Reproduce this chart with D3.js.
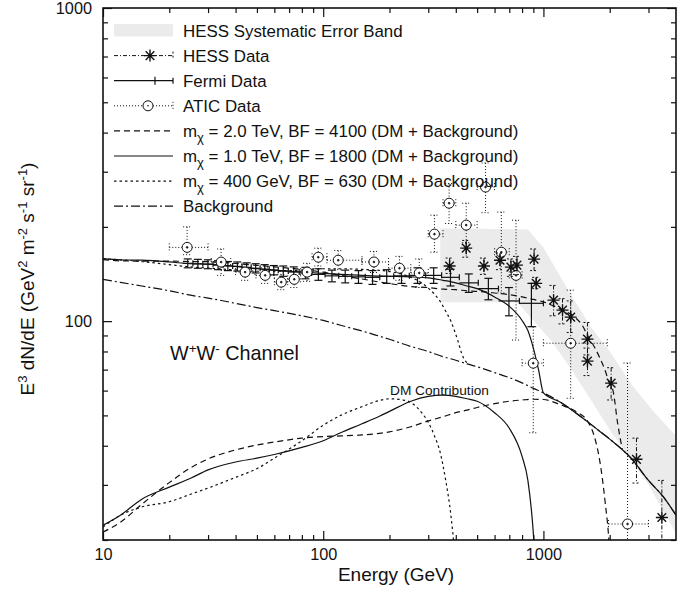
<!DOCTYPE html>
<html>
<head>
<meta charset="utf-8">
<script src="https://cdn.jsdelivr.net/npm/d3@7"></script>
<style>
body { margin: 0; background: #fff; }
text { font-family: "Liberation Sans", Arial, Helvetica, sans-serif; fill: #111; }
</style>
</head>
<body>
<div id="chart"></div>
<script>
// background (dash-dot)
var bgE = [10,12,15,20,25,30,40,50,60,80,100,120,150,180,200,250,300,350,400,450,500,600,700,800,900,1000,1200,1400,1600,1800,2000,2500,3000,3500,4000];
var bgV = [136,133,129.5,125,121,118.5,114,110.5,108,104,100.5,97,93,89.5,87.5,83,80,77,75,73,71.5,68.5,66,63.5,61,59,55,51,47.5,44.5,42,36.5,31,27.5,24];

// DM contributions
var dm1E = [10,12,15,20,25,30,40,50,60,80,100,120,150,180,200,250,300,350,400,450,500,600,700,800,850,900,930];
var dm1V = [22.3,24,27,29.5,31.5,33.5,35.5,36.5,37.5,39.5,41.5,44,47,49.7,51.5,55.5,57.5,58,57.5,56.5,55.5,51,45.5,37,31,21,14];
var dm2E = [10,12,15,20,25,30,40,50,60,80,100,120,150,180,200,250,300,350,400,450,500,600,700,800,900,1000,1200,1400,1600,1700,1800,1900,2000,2050];
var dm2V = [21.2,22.8,26,30.5,34,36.3,38.8,40.2,41.1,42.3,42.8,43,43.3,43.8,44.3,46,48,49.5,51,52,53,54.5,55.5,56,56.3,56.2,54,51.5,47.5,43,36,27,18,12];
var dm4E = [10,12,15,20,25,30,40,50,60,80,100,120,150,180,200,230,250,280,300,320,340,360,380,395,410];
var dm4V = [22,24,25.5,26.5,28,29.3,31.7,33.8,36.5,41.5,46.5,50,53.3,55.8,56.5,56,55,51,47.5,43,38,31,24,18,11];

// DM + background
var tot1E = [10,12,15,20,25,30,40,50,60,80,100,120,150,180,200,250,300,350,400,450,500,600,700,800,850,900,950,1000,1200,1400,1600,1800,2000,2500,3000,3500,4000];
var tot1V = [158.3,157,156.5,154.5,152.5,152,149.5,147,145.5,143.5,142,141,140,139.2,139,138.5,137.5,135,132.5,129.5,127,119.5,111.5,100.5,93.3,82,70,59,55,51,47.5,44.5,42,36.5,31,27.5,24];
var tot2E = [10,12,15,20,25,30,40,50,60,80,100,120,150,180,200,250,300,350,400,450,500,600,700,800,900,1000,1200,1400,1500,1600,1700,1800,1900,2000,2070,2175,2280];
var tot2V = [157.2,155.8,155.5,155.5,155,154.8,152.8,150.7,149.1,146.3,143.3,140,136.3,133.3,131.8,129,128,126.5,126,125,124.5,123,121.5,119.5,117.3,115.2,109,102.5,97,89,83,76.5,70,63,60,47,39];
var tot4E = [10,12,15,20,25,30,40,50,60,80,100,120,150,180,200,230,250,280,300,320,340,360,380,395,410,425,440,450];
var tot4V = [158,157,155,151.5,149,147.8,145.7,144.3,144.5,145.5,147,147,146.3,145.3,144,141,138,132.5,127.5,122,115.5,107.5,100,93,86,79,75,73.5];

// HESS systematic band
var bandUpE = [340,850,1000,1300,1640,2000,2570,3200,4000];
var bandUpV = [198,196,172,125,96,80,61.5,51,43];
var bandLoE = [340,760,1078,1343,2000,3000,4000];
var bandLoV = [115,115,87,70,45,30,21];

// HESS data
var hessE  = [375,446,537,635,712,758,907,927,1112,1221,1330,1585,1585,2030,2646,3450];
var hessV  = [150,171,150,156.5,148.8,151,157.8,132,116.7,108.4,103,87.6,74.5,63.4,36.2,23.6];
var hessLo = [142,160,141,146,139,141,145,127,104,98,92,78,67,56,30.4,19];
var hessHi = [159,181,159,165,158,161,170,138,130,118,116,99,82,71,42.3,31];

// Fermi data
var fermiEdges = [23,25.6,28.4,31.6,35.1,38.8,42.8,47.1,51.7,56.9,62.5,69.4,77.8,88.6,102,117.6,134.7,155.2,180.6,209,246,292,345,415,506,625,778,1000];
var fermiV   = [153,152.5,152,151,150,149.5,148.5,147.5,146.5,145.5,144.5,143.5,142.5,141,139.5,139,138.5,138,139,139.5,140,140,138,132.5,127,116,114];
var fermiErr = [5,5,5,5,5,5,5,5,5,5,5.5,5.5,6,6,6,6.5,6.5,7,7,7.5,8,8,8.5,9,10,12,18];

// ATIC data
var aticE   = [24.1,34.4,44.2,54.5,64.5,73.9,84.5,95,117,170,222,273,320,373,446,546,644,751,899,1330,2410];
var aticELo = [20,31,40,49.5,60,69,79,89,104,150,198,250,300,350,400,500,600,700,800,1000,1975];
var aticEHi = [30,38,49,60,69,79,90,104,150,198,250,300,350,400,500,600,700,800,1000,1950,3000];
var aticV   = [172,154.4,143.4,140,133.2,136,143.4,160,156.5,154.5,147.6,142.5,189.6,238,202.6,268,166,140,73.4,85,22.5];
var aticLo  = [163,140,135,132,126,128,134,150,146,143,135,128,166,205,178,222,123,87,44,56.7,10];
var aticHi  = [200,170,152,148,141,144,153,171,168,167,161,158,218,275,238,320,223,210,96,125.6,73.5];

var xMajor = [10, 100, 1000];
var xMinor = [20,30,40,50,60,70,80,90,200,300,400,500,600,700,800,900,2000,3000];
var yMajor = [100, 1000];
var yMinor = [20,30,40,50,60,70,80,90,200,300,400,500,600,700,800,900];

var legendLabels = ["HESS Systematic Error Band", "HESS Data", "Fermi Data", "ATIC Data"];
var modelLabels = [" = 2.0 TeV, BF = 4100 (DM + Background)",
                   " = 1.0 TeV, BF = 1800 (DM + Background)",
                   " = 400 GeV, BF = 630 (DM + Background)"];

var W = 694, H = 597;
var L = 103, R = 676, T = 8, B = 540;

var x = d3.scaleLog().domain([10, 4000]).range([L, R]);
var y = d3.scaleLog().domain([20, 1000]).range([B, T]);

var svg = d3.select("#chart").append("svg")
    .attr("width", W)
    .attr("height", H);

svg.append("clipPath").attr("id", "clip")
  .append("rect")
    .attr("x", L).attr("y", T)
    .attr("width", R - L).attr("height", B - T);

var plot = svg.append("g").attr("clip-path", "url(#clip)");

function pairs(es, vs) { return es.map(function(e, i) { return [e, vs[i]]; }); }

var line = d3.line()
    .x(function(d) { return x(d[0]); })
    .y(function(d) { return y(d[1]); })
    .curve(d3.curveMonotoneX);

// band
var bandPts = pairs(bandUpE, bandUpV).concat(pairs(bandLoE, bandLoV).reverse());
plot.append("path")
    .attr("d", d3.line().x(function(d) { return x(d[0]); }).y(function(d) { return y(d[1]); })(bandPts) + "Z")
    .attr("fill", "#ebebeb");

// curves
var curves = [
  {e: bgE,  v: bgV,  dash: "9,3,2,3"},
  {e: dm1E, v: dm1V, dash: null},
  {e: dm2E, v: dm2V, dash: "6,4"},
  {e: dm4E, v: dm4V, dash: "2.5,3"},
  {e: tot1E, v: tot1V, dash: null},
  {e: tot2E, v: tot2V, dash: "6,4"},
  {e: tot4E, v: tot4V, dash: "2.5,3"}
];
curves.forEach(function(c) {
  plot.append("path")
      .attr("d", line(pairs(c.e, c.v)))
      .attr("fill", "none")
      .attr("stroke", "#111")
      .attr("stroke-width", 1.2)
      .attr("stroke-dasharray", c.dash);
});

// Fermi error crosses
var fg = plot.append("g").attr("stroke", "#111").attr("stroke-width", 1.2);
fermiV.forEach(function(v, i) {
  var lo = fermiEdges[i], hi = fermiEdges[i + 1];
  var e = Math.sqrt(lo * hi);
  var cx = x(e), cy = y(v);
  var y1 = y(v + fermiErr[i]), y2 = y(v - fermiErr[i]);
  fg.append("line").attr("x1", x(lo)).attr("x2", x(hi)).attr("y1", cy).attr("y2", cy);
  fg.append("line").attr("x1", x(hi)).attr("x2", x(hi)).attr("y1", cy - 3).attr("y2", cy + 3);
  fg.append("line").attr("x1", cx).attr("x2", cx).attr("y1", y1).attr("y2", y2);
  fg.append("line").attr("x1", cx - 4).attr("x2", cx + 4).attr("y1", y1).attr("y2", y1);
  fg.append("line").attr("x1", cx - 4).attr("x2", cx + 4).attr("y1", y2).attr("y2", y2);
});

// ATIC
var ag = plot.append("g").attr("stroke", "#111").attr("stroke-width", 1).attr("fill", "none");
aticV.forEach(function(v, i) {
  var cx = x(aticE[i]), cy = y(v);
  var xl = x(aticELo[i]), xh = x(aticEHi[i]);
  var yl = y(aticLo[i]), yh = y(aticHi[i]);
  var dots = ag.append("g").attr("stroke-dasharray", "1,2");
  dots.append("line").attr("x1", xl).attr("x2", cx - 5).attr("y1", cy).attr("y2", cy);
  dots.append("line").attr("x1", cx + 5).attr("x2", xh).attr("y1", cy).attr("y2", cy);
  dots.append("line").attr("x1", cx).attr("x2", cx).attr("y1", yh).attr("y2", cy - 5);
  dots.append("line").attr("x1", cx).attr("x2", cx).attr("y1", cy + 5).attr("y2", yl);
  dots.append("line").attr("x1", xl).attr("x2", xl).attr("y1", cy - 4).attr("y2", cy + 4);
  dots.append("line").attr("x1", xh).attr("x2", xh).attr("y1", cy - 4).attr("y2", cy + 4);
  dots.append("line").attr("x1", cx - 4).attr("x2", cx + 4).attr("y1", yh).attr("y2", yh);
  dots.append("line").attr("x1", cx - 4).attr("x2", cx + 4).attr("y1", yl).attr("y2", yl);
  ag.append("circle").attr("cx", cx).attr("cy", cy).attr("r", 5).attr("fill", "#fff");
  ag.append("circle").attr("cx", cx).attr("cy", cy).attr("r", 0.8).attr("fill", "#111");
});

// HESS
function starPath(r) {
  var k = r * 0.72;
  return "M" + (-r) + ",0H" + r + "M0," + (-r) + "V" + r +
         "M" + (-k) + "," + (-k) + "L" + k + "," + k +
         "M" + (-k) + "," + k + "L" + k + "," + (-k);
}
var hg = plot.append("g").attr("stroke", "#111").attr("fill", "none");
hessV.forEach(function(v, i) {
  var cx = x(hessE[i]), cy = y(v);
  var yl = y(hessLo[i]), yh = y(hessHi[i]);
  var eb = hg.append("g").attr("stroke-width", 1).attr("stroke-dasharray", "4,2,1,2");
  eb.append("line").attr("x1", cx).attr("x2", cx).attr("y1", yh).attr("y2", yl);
  eb.append("line").attr("x1", cx - 4).attr("x2", cx + 4).attr("y1", yh).attr("y2", yh).attr("stroke-dasharray", "2,2");
  eb.append("line").attr("x1", cx - 4).attr("x2", cx + 4).attr("y1", yl).attr("y2", yl).attr("stroke-dasharray", "2,2");
  hg.append("path").attr("d", starPath(6)).attr("transform", "translate(" + cx + "," + cy + ")").attr("stroke-width", 1.4);
});

// axes
function axisStyle(g) {
  g.select(".domain").remove();
  g.selectAll("line").attr("stroke", "#111").attr("stroke-width", 1.2);
  g.selectAll("text").style("font-size", "16.3px").attr("fill", "#111");
}
var fmt = d3.format("d");
svg.append("g").attr("transform", "translate(0," + B + ")")
    .call(d3.axisBottom(x).tickValues(xMajor).tickSize(-9).tickPadding(8).tickFormat(fmt)).call(axisStyle);
svg.append("g").attr("transform", "translate(0," + B + ")")
    .call(d3.axisBottom(x).tickValues(xMinor).tickSize(-5).tickFormat("")).call(axisStyle);
svg.append("g").attr("transform", "translate(0," + T + ")")
    .call(d3.axisTop(x).tickValues(xMajor).tickSize(-9).tickFormat("")).call(axisStyle);
svg.append("g").attr("transform", "translate(0," + T + ")")
    .call(d3.axisTop(x).tickValues(xMinor).tickSize(-5).tickFormat("")).call(axisStyle);
svg.append("g").attr("transform", "translate(" + L + ",0)")
    .call(d3.axisLeft(y).tickValues(yMajor).tickSize(-9).tickPadding(11).tickFormat(fmt)).call(axisStyle);
svg.append("g").attr("transform", "translate(" + L + ",0)")
    .call(d3.axisLeft(y).tickValues(yMinor).tickSize(-5).tickFormat("")).call(axisStyle);
svg.append("g").attr("transform", "translate(" + R + ",0)")
    .call(d3.axisRight(y).tickValues(yMajor).tickSize(-9).tickFormat("")).call(axisStyle);
svg.append("g").attr("transform", "translate(" + R + ",0)")
    .call(d3.axisRight(y).tickValues(yMinor).tickSize(-5).tickFormat("")).call(axisStyle);

svg.append("rect")
    .attr("x", L).attr("y", T)
    .attr("width", R - L).attr("height", B - T)
    .attr("fill", "none")
    .attr("stroke", "#111")
    .attr("stroke-width", 1.6);

// axis titles
svg.append("text")
    .attr("x", 396).attr("y", 581)
    .attr("text-anchor", "middle")
    .style("font-size", "19px")
    .text("Energy (GeV)");

var yt = svg.append("text")
    .attr("transform", "translate(34,279) rotate(-90)")
    .attr("text-anchor", "middle")
    .style("font-size", "19px");
yt.append("tspan").text("E");
yt.append("tspan").attr("baseline-shift", "super").style("font-size", "13px").text("3");
yt.append("tspan").text(" dN/dE (GeV");
yt.append("tspan").attr("baseline-shift", "super").style("font-size", "13px").text("2");
yt.append("tspan").text(" m");
yt.append("tspan").attr("baseline-shift", "super").style("font-size", "13px").text("-2");
yt.append("tspan").text(" s");
yt.append("tspan").attr("baseline-shift", "super").style("font-size", "13px").text("-1");
yt.append("tspan").text(" sr");
yt.append("tspan").attr("baseline-shift", "super").style("font-size", "13px").text("-1");
yt.append("tspan").text(")");

// annotations
var ch = svg.append("text").attr("x", 170).attr("y", 360).style("font-size", "19.8px");
ch.append("tspan").text("W");
ch.append("tspan").attr("baseline-shift", "super").style("font-size", "13.5px").text("+");
ch.append("tspan").text("W");
ch.append("tspan").attr("baseline-shift", "super").style("font-size", "13.5px").text("-");
ch.append("tspan").text(" Channel");

svg.append("text").attr("x", 390).attr("y", 395).style("font-size", "13.7px").text("DM Contribution");

// legend
var lx0 = 114, lx1 = 173, tx = 183;
function rowBase(i) { return 36.5 + 25.1 * i; }
var lg = svg.append("g");

lg.append("rect").attr("x", lx0).attr("y", rowBase(0) - 12.5).attr("width", lx1 - lx0).attr("height", 12.5).attr("fill", "#ebebeb");

var r1 = rowBase(1) - 6;
lg.append("line").attr("x1", lx0).attr("x2", lx1).attr("y1", r1).attr("y2", r1)
  .attr("stroke", "#111").attr("stroke-dasharray", "4,2,1,2");
lg.append("line").attr("x1", lx1).attr("x2", lx1).attr("y1", r1 - 4).attr("y2", r1 + 4)
  .attr("stroke", "#111").attr("stroke-dasharray", "2,2");
lg.append("path").attr("d", starPath(6)).attr("transform", "translate(150," + r1 + ")")
  .attr("stroke", "#111").attr("stroke-width", 1.4);

var r2 = rowBase(2) - 6;
lg.append("line").attr("x1", lx0).attr("x2", lx1).attr("y1", r2).attr("y2", r2).attr("stroke", "#111").attr("stroke-width", 1.2);
lg.append("line").attr("x1", lx1).attr("x2", lx1).attr("y1", r2 - 3).attr("y2", r2 + 3).attr("stroke", "#111").attr("stroke-width", 1.2);
lg.append("line").attr("x1", 155).attr("x2", 155).attr("y1", r2 - 4).attr("y2", r2 + 4).attr("stroke", "#111").attr("stroke-width", 1.2);

var r3 = rowBase(3) - 6;
lg.append("line").attr("x1", lx0).attr("x2", lx1).attr("y1", r3).attr("y2", r3).attr("stroke", "#111").attr("stroke-dasharray", "1,2");
lg.append("line").attr("x1", lx1).attr("x2", lx1).attr("y1", r3 - 4).attr("y2", r3 + 4).attr("stroke", "#111").attr("stroke-dasharray", "1,2");
lg.append("circle").attr("cx", 148).attr("cy", r3).attr("r", 5).attr("fill", "#fff").attr("stroke", "#111");
lg.append("circle").attr("cx", 148).attr("cy", r3).attr("r", 0.8).attr("fill", "#111");

var lineDash = ["6,4", null, "2.5,3", "9,3,2,3"];
lineDash.forEach(function(d, k) {
  var ry = rowBase(4 + k) - 6;
  lg.append("line").attr("x1", lx0).attr("x2", lx1).attr("y1", ry).attr("y2", ry)
    .attr("stroke", "#111").attr("stroke-width", 1.2).attr("stroke-dasharray", d);
});

legendLabels.forEach(function(t, i) {
  lg.append("text").attr("x", tx).attr("y", rowBase(i)).style("font-size", "16.9px").text(t);
});
modelLabels.forEach(function(t, k) {
  var tt = lg.append("text").attr("x", tx).attr("y", rowBase(4 + k)).style("font-size", "16.9px");
  tt.append("tspan").text("m");
  tt.append("tspan").attr("baseline-shift", "-5px").style("font-size", "13px").text("χ");
  tt.append("tspan").attr("baseline-shift", "0").text(t);
});
lg.append("text").attr("x", tx).attr("y", rowBase(7)).style("font-size", "16.9px").text("Background");
</script>
</body>
</html>
